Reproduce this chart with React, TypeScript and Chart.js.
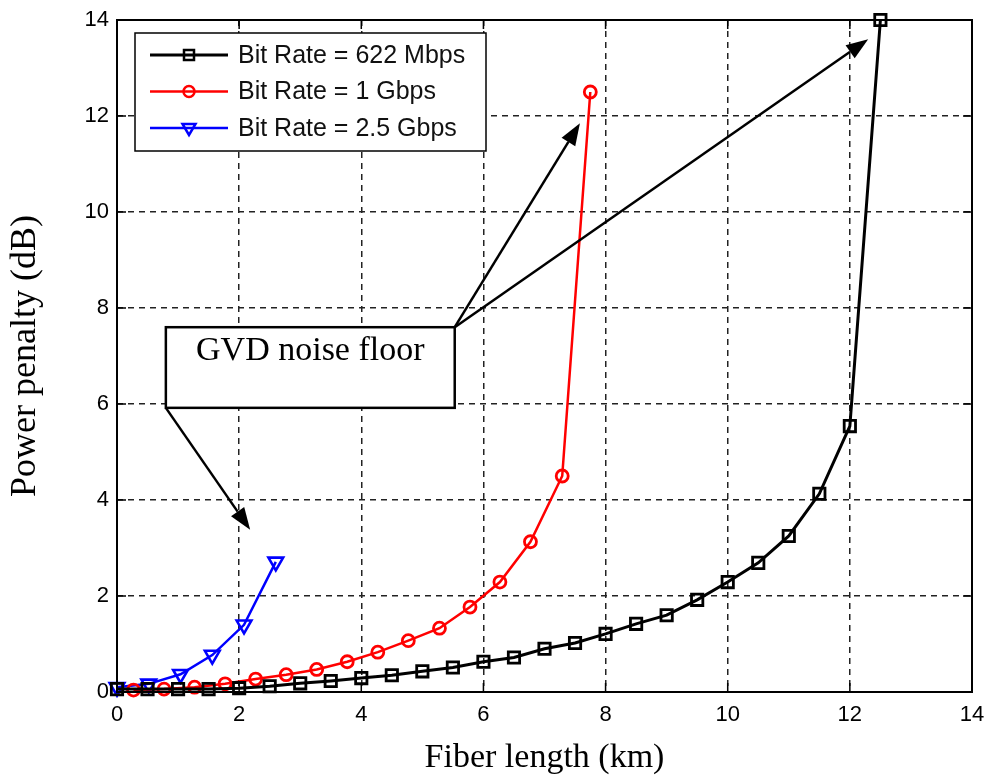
import React, { useEffect, useRef } from "react";
import { Chart, registerables } from "chart.js";

Chart.register(...registerables);

// ---- data ----
const blackX = [0, 0.5, 1, 1.5, 2, 2.5, 3, 3.5, 4, 4.5, 5, 5.5, 6, 6.5, 7, 7.5, 8, 8.5, 9, 9.5, 10, 10.5, 11, 11.5, 12, 12.5];
const blackY = [0.06, 0.06, 0.06, 0.06, 0.08, 0.12, 0.18, 0.23, 0.29, 0.35, 0.43, 0.51, 0.63, 0.72, 0.9, 1.02, 1.21, 1.42, 1.6, 1.92, 2.29, 2.69, 3.25, 4.13, 5.54, 14.0];

const redX = [0.27, 0.77, 1.27, 1.77, 2.27, 2.77, 3.27, 3.77, 4.27, 4.77, 5.28, 5.78, 6.27, 6.77, 7.29, 7.75];
const redY = [0.04, 0.06, 0.1, 0.17, 0.27, 0.36, 0.47, 0.63, 0.83, 1.07, 1.33, 1.77, 2.29, 3.13, 4.5, 12.5];

const blueX = [0, 0.52, 1.04, 1.56, 2.08, 2.6];
const blueY = [0.1, 0.17, 0.37, 0.77, 1.4, 2.71];

const seriesLabels = ["Bit Rate = 622 Mbps", "Bit Rate = 1 Gbps", "Bit Rate = 2.5 Gbps"];
const xTitle = "Fiber length (km)";
const yTitle = "Power penalty (dB)";
const annotationText = "GVD noise floor";

// annotation anchors in data units (km, dB)
const noteBoxX = [0.8, 5.53];
const noteBoxY = [7.6, 5.92];
const arrowTipsX = [12.3, 7.58, 2.18];
const arrowTipsY = [13.6, 11.85, 3.38];

const toPoints = (xs: number[], ys: number[]) => xs.map((x, i) => ({ x, y: ys[i] }));

function drawMarker(ctx: CanvasRenderingContext2D, style: string, x: number, y: number, color: string) {
  ctx.save();
  ctx.strokeStyle = color;
  ctx.lineWidth = 2.5;
  ctx.setLineDash([]);
  ctx.beginPath();
  if (style === "rect") {
    ctx.rect(x - 5, y - 5, 10, 10);
  } else if (style === "circle") {
    ctx.arc(x, y, 5.5, 0, Math.PI * 2);
  } else {
    ctx.moveTo(x - 6.5, y - 4);
    ctx.lineTo(x + 6.5, y - 4);
    ctx.lineTo(x, y + 7);
    ctx.closePath();
  }
  ctx.stroke();
  ctx.restore();
}

function arrow(ctx: CanvasRenderingContext2D, x0: number, y0: number, x1: number, y1: number) {
  const ang = Math.atan2(y1 - y0, x1 - x0);
  const L = 22, W = 8;
  const bx = x1 - Math.cos(ang) * L;
  const by = y1 - Math.sin(ang) * L;
  ctx.beginPath();
  ctx.moveTo(x0, y0);
  ctx.lineTo(bx, by);
  ctx.stroke();
  ctx.beginPath();
  ctx.moveTo(x1, y1);
  ctx.lineTo(bx + Math.sin(ang) * W, by - Math.cos(ang) * W);
  ctx.lineTo(bx - Math.sin(ang) * W, by + Math.cos(ang) * W);
  ctx.closePath();
  ctx.fill();
}

const decorPlugin = {
  id: "decor",
  afterDatasetsDraw(chart: any) {
    const { ctx, chartArea: a, scales } = chart;
    const xs = scales.x;
    const ys = scales.y;
    ctx.save();
    ctx.setLineDash([]);
    ctx.strokeStyle = "#000";
    ctx.fillStyle = "#000";

    // frame
    ctx.lineWidth = 2;
    ctx.strokeRect(a.left, a.top, a.right - a.left, a.bottom - a.top);

    // inward tick marks
    ctx.lineWidth = 1.5;
    ctx.beginPath();
    xs.ticks.forEach((t: any) => {
      const px = xs.getPixelForValue(t.value);
      ctx.moveTo(px, a.bottom);
      ctx.lineTo(px, a.bottom - 9);
      ctx.moveTo(px, a.top);
      ctx.lineTo(px, a.top + 9);
    });
    ys.ticks.forEach((t: any) => {
      const py = ys.getPixelForValue(t.value);
      ctx.moveTo(a.left, py);
      ctx.lineTo(a.left + 9, py);
      ctx.moveTo(a.right, py);
      ctx.lineTo(a.right - 9, py);
    });
    ctx.stroke();

    // legend
    const lx = a.left + 18;
    const ly = a.top + 13;
    const lw = 351;
    const lh = 118;
    ctx.fillStyle = "#fff";
    ctx.fillRect(lx, ly, lw, lh);
    ctx.lineWidth = 1.5;
    ctx.strokeStyle = "#000";
    ctx.strokeRect(lx, ly, lw, lh);
    ctx.font = "25px 'Liberation Sans', Arial, sans-serif";
    ctx.textBaseline = "middle";
    ctx.textAlign = "left";
    chart.data.datasets.forEach((ds: any, i: number) => {
      const ry = ly + 22 + i * 36.5;
      ctx.strokeStyle = ds.borderColor;
      ctx.lineWidth = ds.borderWidth;
      ctx.beginPath();
      ctx.moveTo(lx + 15, ry);
      ctx.lineTo(lx + 93, ry);
      ctx.stroke();
      drawMarker(ctx, ds.pointStyle === "triangle" ? "triDown" : ds.pointStyle, lx + 54, ry, ds.borderColor);
      ctx.fillStyle = "#111";
      ctx.fillText(ds.label, lx + 103, ry + 1);
    });

    // annotation box
    const bx0 = xs.getPixelForValue(noteBoxX[0]);
    const bx1 = xs.getPixelForValue(noteBoxX[1]);
    const by0 = ys.getPixelForValue(noteBoxY[0]);
    const by1 = ys.getPixelForValue(noteBoxY[1]);
    ctx.fillStyle = "#fff";
    ctx.fillRect(bx0, by0, bx1 - bx0, by1 - by0);
    ctx.strokeStyle = "#000";
    ctx.lineWidth = 2.5;
    ctx.strokeRect(bx0, by0, bx1 - bx0, by1 - by0);
    ctx.fillStyle = "#000";
    ctx.font = "34px 'Liberation Serif', 'Times New Roman', serif";
    ctx.textAlign = "center";
    ctx.textBaseline = "middle";
    ctx.fillText(annotationText, (bx0 + bx1) / 2, by0 + 24);

    // arrows
    ctx.lineWidth = 2.5;
    const starts = [
      [bx1, by0],
      [bx1, by0],
      [bx0, by1],
    ];
    arrowTipsX.forEach((tx, i) => {
      arrow(ctx, starts[i][0], starts[i][1], xs.getPixelForValue(tx), ys.getPixelForValue(arrowTipsY[i]));
    });

    ctx.restore();
  },
};

export default function App() {
  const canvasRef = useRef<HTMLCanvasElement | null>(null);

  useEffect(() => {
    document.body.style.margin = "0";
    const canvas = canvasRef.current;
    if (!canvas) return;
    const tickFont = { family: "'Liberation Sans', Arial, sans-serif", size: 22 };
    const chart = new Chart(canvas, {
      type: "line",
      data: {
        datasets: [
          {
            label: seriesLabels[0],
            data: toPoints(blackX, blackY),
            borderColor: "#000000",
            borderWidth: 3,
            pointStyle: "rect",
            pointRadius: 8,
            pointBorderWidth: 2.8,
            pointBackgroundColor: "rgba(0,0,0,0)",
            tension: 0,
            clip: false,
          },
          {
            label: seriesLabels[1],
            data: toPoints(redX, redY),
            borderColor: "#ff0000",
            borderWidth: 2.5,
            pointStyle: "circle",
            pointRadius: 6,
            pointBorderWidth: 2.8,
            pointBackgroundColor: "rgba(0,0,0,0)",
            tension: 0,
            clip: false,
          },
          {
            label: seriesLabels[2],
            data: toPoints(blueX, blueY),
            borderColor: "#0000ff",
            borderWidth: 2.5,
            pointStyle: "triangle",
            pointRotation: 180,
            pointRadius: 8.5,
            pointBorderWidth: 2.6,
            pointBackgroundColor: "rgba(0,0,0,0)",
            tension: 0,
            clip: false,
          },
        ] as any,
      },
      options: {
        animation: false,
        responsive: true,
        maintainAspectRatio: false,
        events: [],
        layout: { padding: { top: 20, right: 17, left: 0, bottom: 0 } },
        plugins: {
          legend: { display: false },
          tooltip: { enabled: false },
        },
        scales: {
          x: {
            type: "linear",
            min: 0,
            max: 14,
            ticks: { stepSize: 2, color: "#000", font: tickFont, padding: 10, maxRotation: 0 },
            grid: { color: "#222", lineWidth: 1.5, drawTicks: false },
            border: { display: false, dash: [6, 5] },
            title: {
              display: true,
              text: xTitle,
              color: "#000",
              font: { family: "'Liberation Serif', 'Times New Roman', serif", size: 34 },
              padding: { top: 0, bottom: 5 },
            },
            afterFit: (s: any) => {
              s.height = 91;
              s.paddingRight = 0;
              s.paddingLeft = 0;
            },
          },
          y: {
            type: "linear",
            min: 0,
            max: 14,
            ticks: { stepSize: 2, color: "#000", font: tickFont, padding: 8 },
            grid: { color: "#222", lineWidth: 1.5, drawTicks: false },
            border: { display: false, dash: [6, 5] },
            title: {
              display: true,
              text: yTitle,
              color: "#000",
              font: { family: "'Liberation Serif', 'Times New Roman', serif", size: 36 },
              padding: { top: 4, bottom: 0 },
            },
            afterFit: (s: any) => {
              s.width = 117;
              s.paddingTop = 0;
              s.paddingBottom = 0;
            },
          },
        },
      } as any,
      plugins: [decorPlugin],
    });
    return () => chart.destroy();
  }, []);

  return (
    <div style={{ width: 989, height: 783, position: "relative" }}>
      <canvas ref={canvasRef} />
    </div>
  );
}
